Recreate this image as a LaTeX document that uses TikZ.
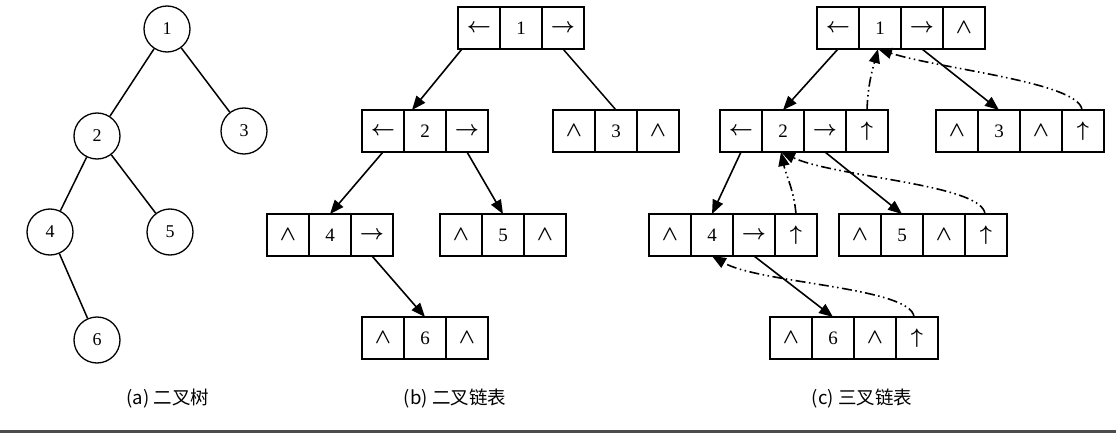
\RequirePackage{fix-cm}
\documentclass[tikz,border=0pt]{standalone}
\usepackage{fontspec}
\setmainfont{Liberation Serif}
\newfontfamily\cjk{Noto Sans CJK SC}
\usetikzlibrary{arrows.meta,calc}
\newcommand\cellsym[1]{{\fontsize{21}{23}\selectfont\boldmath$#1$}}
\tikzset{
 cell/.style={draw, line width=1.4pt, minimum width=42pt, minimum height=42pt, inner sep=0pt, outer sep=0pt, font=\fontsize{19}{21}\selectfont},
 tnode/.style={circle, draw, line width=1.3pt, minimum size=46pt, inner sep=0pt, font=\fontsize{18}{20}\selectfont},
 edge/.style={line width=1.5pt},
 link/.style={line width=1.6pt, -{Triangle[length=14pt,width=11pt]}},
 plink/.style={link, dash pattern=on 10pt off 3.5pt on 1.5pt off 3.5pt on 1.5pt off 3.5pt},
 captext/.style={font=\cjk\fontsize{18.5}{21}\selectfont}
}
\begin{document}
\begin{tikzpicture}[x=1pt,y=-1pt]
\useasboundingbox (0,0) rectangle (1116,433);
\fill[black!70] (0,430) rectangle (1116,433);
% (a) binary tree
\node[tnode] (a1) at (167,29) {1};
\node[tnode] (a2) at (97,136) {2};
\node[tnode] (a3) at (244,131) {3};
\node[tnode] (a4) at (50,232) {4};
\node[tnode] (a5) at (170,232) {5};
\node[tnode] (a6) at (97,340) {6};
\draw[edge] (a1) -- (a2);
\draw[edge] (a1) -- (a3);
\draw[edge] (a2) -- (a4);
\draw[edge] (a2) -- (a5);
\draw[edge] (a4) -- (a6);
\node[captext] (capa) at (168,399) {(a) 二叉树};
% (b) binary linked list
\node[cell, anchor=north west] (b1l) at (458,7) {\cellsym{\leftarrow}};
\node[cell, anchor=west] (b1d) at (b1l.east) {1};
\node[cell, anchor=west] (b1r) at (b1d.east) {\cellsym{\rightarrow}};
\node[cell, anchor=north west] (b2l) at (362,110) {\cellsym{\leftarrow}};
\node[cell, anchor=west] (b2d) at (b2l.east) {2};
\node[cell, anchor=west] (b2r) at (b2d.east) {\cellsym{\rightarrow}};
\node[cell, anchor=north west] (b3l) at (553,110) {\cellsym{\wedge}};
\node[cell, anchor=west] (b3d) at (b3l.east) {3};
\node[cell, anchor=west] (b3r) at (b3d.east) {\cellsym{\wedge}};
\node[cell, anchor=north west] (b4l) at (267,214) {\cellsym{\wedge}};
\node[cell, anchor=west] (b4d) at (b4l.east) {4};
\node[cell, anchor=west] (b4r) at (b4d.east) {\cellsym{\rightarrow}};
\node[cell, anchor=north west] (b5l) at (440,214) {\cellsym{\wedge}};
\node[cell, anchor=west] (b5d) at (b5l.east) {5};
\node[cell, anchor=west] (b5r) at (b5d.east) {\cellsym{\wedge}};
\node[cell, anchor=north west] (b6l) at (362,317) {\cellsym{\wedge}};
\node[cell, anchor=west] (b6d) at (b6l.east) {6};
\node[cell, anchor=west] (b6r) at (b6d.east) {\cellsym{\wedge}};
\draw[link] ([xshift=4pt]b1l.south west) -- ([xshift=8pt]b2d.north west);
\draw[edge] (b1r.south) -- (b3d.north);
\draw[link] (b2l.south) -- (b4d.north);
\draw[link] (b2r.south) -- (b5d.north);
\draw[link] (b4r.south) -- (b6d.north);
\node[captext] (capb) at (455,399) {(b) 二叉链表};
% (c) trinary linked list
\node[cell, anchor=north west] (c1l) at (817,7) {\cellsym{\leftarrow}};
\node[cell, anchor=west] (c1d) at (c1l.east) {1};
\node[cell, anchor=west] (c1r) at (c1d.east) {\cellsym{\rightarrow}};
\node[cell, anchor=west] (c1p) at (c1r.east) {\cellsym{\wedge}};
\node[cell, anchor=north west] (c2l) at (720,110) {\cellsym{\leftarrow}};
\node[cell, anchor=west] (c2d) at (c2l.east) {2};
\node[cell, anchor=west] (c2r) at (c2d.east) {\cellsym{\rightarrow}};
\node[cell, anchor=west] (c2p) at (c2r.east) {\cellsym{\uparrow}};
\node[cell, anchor=north west] (c3l) at (936,110) {\cellsym{\wedge}};
\node[cell, anchor=west] (c3d) at (c3l.east) {3};
\node[cell, anchor=west] (c3r) at (c3d.east) {\cellsym{\wedge}};
\node[cell, anchor=west] (c3p) at (c3r.east) {\cellsym{\uparrow}};
\node[cell, anchor=north west] (c4l) at (649,214) {\cellsym{\wedge}};
\node[cell, anchor=west] (c4d) at (c4l.east) {4};
\node[cell, anchor=west] (c4r) at (c4d.east) {\cellsym{\rightarrow}};
\node[cell, anchor=west] (c4p) at (c4r.east) {\cellsym{\uparrow}};
\node[cell, anchor=north west] (c5l) at (839,214) {\cellsym{\wedge}};
\node[cell, anchor=west] (c5d) at (c5l.east) {5};
\node[cell, anchor=west] (c5r) at (c5d.east) {\cellsym{\wedge}};
\node[cell, anchor=west] (c5p) at (c5r.east) {\cellsym{\uparrow}};
\node[cell, anchor=north west] (c6l) at (770,317) {\cellsym{\wedge}};
\node[cell, anchor=west] (c6d) at (c6l.east) {6};
\node[cell, anchor=west] (c6r) at (c6d.east) {\cellsym{\wedge}};
\node[cell, anchor=west] (c6p) at (c6r.east) {\cellsym{\uparrow}};
\draw[link] (c1l.south) -- (c2d.north);
\draw[link] (c1r.south) -- (c3d.north);
\draw[link] (c2l.south) -- (c4d.north);
\draw[link] (c2r.south) -- (c5d.north);
\draw[link] (c4r.south) -- (c6d.north);
\draw[plink] (c2p.north) to[out=88,in=-105] ([xshift=-2pt]c1d.south);
\draw[plink] ([xshift=-1pt]c3p.north) .. controls +(-95:28) and +(18:65) .. ([xshift=-2pt]c1d.south);
\draw[plink] (c4p.north) to[out=95,in=-78] ([xshift=-2pt]c2d.south);
\draw[plink] ([xshift=-1pt]c5p.north) .. controls +(-95:30) and +(25:60) .. ([xshift=-2pt]c2d.south);
\draw[plink] ([xshift=-3pt]c6p.north) .. controls +(-95:30) and +(30:55) .. (c4d.south);
\node[captext] (capc) at (862,399) {(c) 三叉链表};
\end{tikzpicture}
\end{document}
